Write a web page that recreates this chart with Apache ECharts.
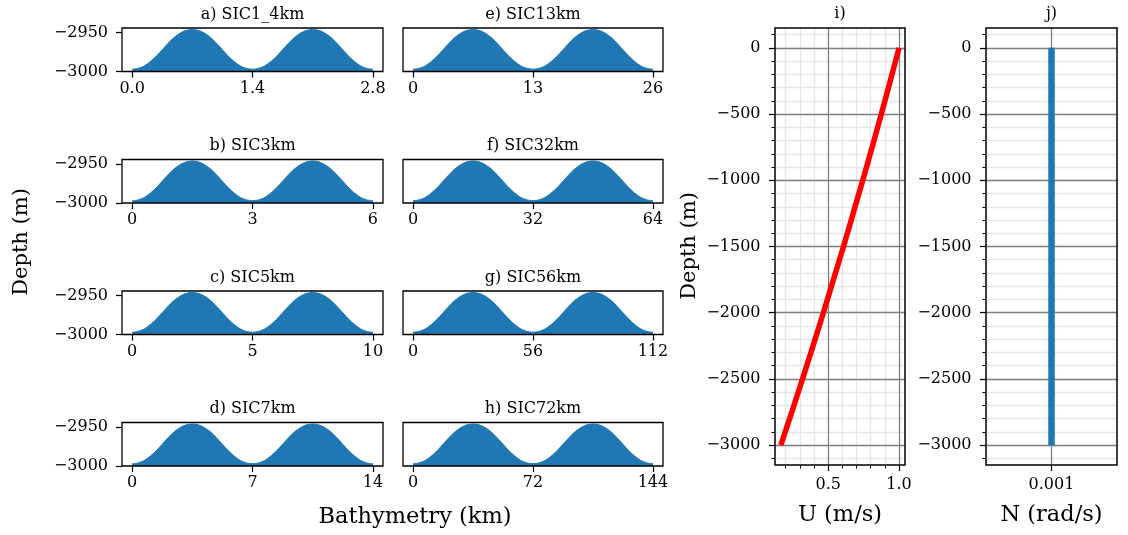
<!DOCTYPE html>
<html>
<head>
<meta charset="utf-8">
<script src="https://cdn.jsdelivr.net/npm/echarts@6/dist/echarts.min.js"></script>
<style>
  html, body { margin: 0; padding: 0; background: #fff; }
  #chart { width: 1128px; height: 535px; }
</style>
</head>
<body>
<div id="chart"></div>
<script>
// ---- Bathymetry sections (panels a-h) ----
const PANEL_TITLES = ['a) SIC1_4km', 'b) SIC3km', 'c) SIC5km', 'd) SIC7km',
                      'e) SIC13km', 'f) SIC32km', 'g) SIC56km', 'h) SIC72km'];
// along-section length of each domain (km)
const PANEL_LENGTH_KM = [2.8, 6, 10, 14, 26, 64, 112, 144];
const PANEL_XTICK_LABELS = [
  ['0.0', '1.4', '2.8'], ['0', '3', '6'], ['0', '5', '10'], ['0', '7', '14'],
  ['0', '13', '26'], ['0', '32', '64'], ['0', '56', '112'], ['0', '72', '144']
];
// seafloor depth (m) at 41 evenly spaced stations across a section (two ridges)
const BED_DEPTH = [
  -2997, -2996, -2993, -2987.5, -2980.5, -2972, -2963.5, -2956, -2950.5, -2947,
  -2946,
  -2947, -2950.5, -2956, -2963.5, -2972, -2980.5, -2987.5, -2993, -2996,
  -2997,
  -2996, -2993, -2987.5, -2980.5, -2972, -2963.5, -2956, -2950.5, -2947,
  -2946,
  -2947, -2950.5, -2956, -2963.5, -2972, -2980.5, -2987.5, -2993, -2996,
  -2997
];
const BED_YTICKS = [-3000, -2950];

// ---- Background flow profile (panel i) ----
const U_DEPTH = [0, -250, -500, -750, -1000, -1250, -1500, -1750, -2000, -2250, -2500, -2750, -3000];
const U_SPEED = [1.0, 0.938, 0.875, 0.81, 0.744, 0.676, 0.608, 0.537, 0.466, 0.393, 0.319, 0.243, 0.166];
const U_XTICKS = [0.5, 1.0];
const U_XMINOR = [0.2, 0.3, 0.4, 0.6, 0.7, 0.8, 0.9];

// ---- Buoyancy frequency profile (panel j) ----
const N_DEPTH = [0, -3000];
const N_FREQ = [0.001, 0.001];
const N_XTICKS = [0.001];

// shared depth ticks for the profile panels
const PROFILE_YTICKS = [-3000, -2500, -2000, -1500, -1000, -500, 0];
const PROFILE_YMINOR = [-3100, -3000, -2900, -2800, -2700, -2600, -2500, -2400, -2300, -2200,
  -2100, -2000, -1900, -1800, -1700, -1600, -1500, -1400, -1300, -1200, -1100, -1000,
  -900, -800, -700, -600, -500, -400, -300, -200, -100, 0, 100];

// ---------------------------------------------------------------
const FONT = '"DejaVu Serif", "Liberation Serif", serif';
const BLUE = '#1f77b4';
const TICK_FS = 16;
const minus = v => (v < 0 ? '\u2212' : '') + Math.abs(v);

const ROW_TOP = [28, 159.5, 291, 422.5];
const ROW_H = 43.5;
const COL_LEFT = [122, 403];
const COL_W = [261, 260];

const grids = [], xAxes = [], yAxes = [], series = [], graphics = [];

function textEl(text, x, y, size, rot) {
  return {
    type: 'text', x: x, y: y, rotation: rot || 0,
    style: { text: text, font: size + 'px ' + FONT, fill: '#000',
             align: 'center', verticalAlign: 'middle' }
  };
}

const NO_LINE = { show: false, onZero: false };
const BOXED = { show: true, z: 3, borderColor: '#000', borderWidth: 1.3, backgroundColor: 'transparent' };
const OFF = { show: false };

PANEL_LENGTH_KM.forEach((L, i) => {
  const col = i < 4 ? 0 : 1, row = i % 4;
  grids.push(Object.assign({ left: COL_LEFT[col], top: ROW_TOP[row], width: COL_W[col], height: ROW_H }, BOXED));
  const ticks = [0, L / 2, L];
  const labels = PANEL_XTICK_LABELS[i];
  xAxes.push({
    type: 'value', gridIndex: i, position: 'bottom', min: -0.042 * L, max: 1.042 * L,
    axisLine: NO_LINE,
    axisTick: { show: true, length: 6, customValues: ticks, lineStyle: { color: '#000', width: 1.2 } },
    axisLabel: {
      customValues: ticks, margin: 9, fontFamily: FONT, fontSize: TICK_FS, color: '#000',
      formatter: v => { const k = ticks.findIndex(t => Math.abs(t - v) < 1e-9); return k >= 0 ? labels[k] : ''; }
    },
    splitLine: OFF
  });
  // only the left column carries depth ticks
  yAxes.push({
    type: 'value', gridIndex: i, position: 'left', min: -3000, max: -2944,
    axisLine: NO_LINE,
    axisTick: { show: col === 0, length: 6, customValues: BED_YTICKS, lineStyle: { color: '#000', width: 1.2 } },
    axisLabel: { show: col === 0, customValues: BED_YTICKS, margin: 14, fontFamily: FONT, fontSize: TICK_FS,
                 color: '#000', formatter: minus },
    splitLine: OFF
  });
  const n = BED_DEPTH.length - 1;
  series.push({
    type: 'line', xAxisIndex: i, yAxisIndex: i, showSymbol: false, smooth: 0.3, z: 2,
    data: BED_DEPTH.map((d, k) => [k / n * L, d]),
    lineStyle: { color: BLUE, width: 1 },
    areaStyle: { color: BLUE, opacity: 1, origin: 'start' },
    silent: true
  });
  graphics.push(textEl(PANEL_TITLES[i], COL_LEFT[col] + COL_W[col] / 2, ROW_TOP[row] - 13.5, 16));
});

// ---- profile panels ----
// grids 8, 9: minor grid layer; 10, 11: major ticks, labels and data
const PROF_RECTS = [
  { left: 775, top: 28, width: 130, height: 437 },
  { left: 986, top: 28, width: 131, height: 437 }
];
PROF_RECTS.forEach(r => grids.push(Object.assign({ show: false }, r)));   // 8, 9
PROF_RECTS.forEach(r => grids.push(Object.assign({ show: false }, r)));   // 10, 11
// panel frames, kept above the grid lines
PROF_RECTS.forEach(r => graphics.push({
  type: 'rect', z: 10, silent: true,
  shape: { x: r.left, y: r.top, width: r.width, height: r.height },
  style: { fill: null, stroke: '#000', lineWidth: 1.5 }
}));

const MAJOR_GRID = { show: true, lineStyle: { color: '#808080', width: 1.3 } };
const MINOR_GRID = { show: true, lineStyle: { color: '#e6e6e6', width: 1.3 } };
const U_RANGE = [0.1246, 1.042];
const N_RANGE = [0.00094, 0.00106];
const D_RANGE = [-3150, 150];

function profX(gridIndex, range, ticks, minor, fmt, z) {
  return {
    type: 'value', gridIndex: gridIndex, position: 'bottom', min: range[0], max: range[1], z: z,
    axisLine: NO_LINE,
    axisTick: ticks ? { show: true, length: minor ? 3.5 : 6, customValues: ticks,
                        lineStyle: { color: '#000', width: minor ? 1 : 1.2 } } : OFF,
    axisLabel: (ticks && !minor) ? { customValues: ticks, margin: 12, fontFamily: FONT, fontSize: TICK_FS,
                                     color: '#000', formatter: fmt } : OFF,
    splitLine: ticks ? (minor ? MINOR_GRID : MAJOR_GRID) : OFF
  };
}
function profY(gridIndex, ticks, minor, z) {
  return {
    type: 'value', gridIndex: gridIndex, position: 'left', min: D_RANGE[0], max: D_RANGE[1], z: z,
    axisLine: NO_LINE,
    axisTick: { show: true, length: minor ? 3.5 : 6, customValues: ticks,
                lineStyle: { color: '#000', width: minor ? 1 : 1.2 } },
    axisLabel: minor ? OFF : { customValues: ticks, margin: 14.5, fontFamily: FONT, fontSize: TICK_FS,
                               color: '#000', formatter: minus },
    splitLine: minor ? MINOR_GRID : MAJOR_GRID
  };
}
// x axes 8..11
xAxes.push(profX(8, U_RANGE, U_XMINOR, true, null, 0));
xAxes.push(profX(9, N_RANGE, null, true, null, 0));
xAxes.push(profX(10, U_RANGE, U_XTICKS, false, v => v.toFixed(1), 1));
xAxes.push(profX(11, N_RANGE, N_XTICKS, false, v => v.toFixed(3), 1));
// y axes 8..11
yAxes.push(profY(8, PROFILE_YMINOR, true, 0));
yAxes.push(profY(9, PROFILE_YMINOR, true, 0));
yAxes.push(profY(10, PROFILE_YTICKS, false, 1));
yAxes.push(profY(11, PROFILE_YTICKS, false, 1));

series.push({
  type: 'line', xAxisIndex: 10, yAxisIndex: 10, showSymbol: false, smooth: 0.3, z: 12, silent: true,
  data: U_DEPTH.map((d, k) => [U_SPEED[k], d]),
  lineStyle: { color: '#ff0000', width: 5.5, cap: 'butt' }
});
series.push({
  type: 'line', xAxisIndex: 11, yAxisIndex: 11, showSymbol: false, z: 12, silent: true,
  data: N_DEPTH.map((d, k) => [N_FREQ[k], d]),
  lineStyle: { color: BLUE, width: 6.5, cap: 'butt' }
});

graphics.push(textEl('i)', 840, 14, 16));
graphics.push(textEl('j)', 1051.5, 14, 16));
graphics.push(textEl('Depth (m)', 22, 242, 21, Math.PI / 2));
graphics.push(textEl('Depth (m)', 690, 246, 21, Math.PI / 2));
graphics.push(textEl('Bathymetry (km)', 415, 517, 22.5));
graphics.push(textEl('U (m/s)', 840, 515, 22.5));
graphics.push(textEl('N (rad/s)', 1051.5, 515, 22.5));

const chart = echarts.init(document.getElementById('chart'), null, { renderer: 'canvas' });
chart.setOption({
  animation: false,
  backgroundColor: '#fff',
  grid: grids,
  xAxis: xAxes,
  yAxis: yAxes,
  series: series,
  graphic: graphics
});
</script>
</body>
</html>
